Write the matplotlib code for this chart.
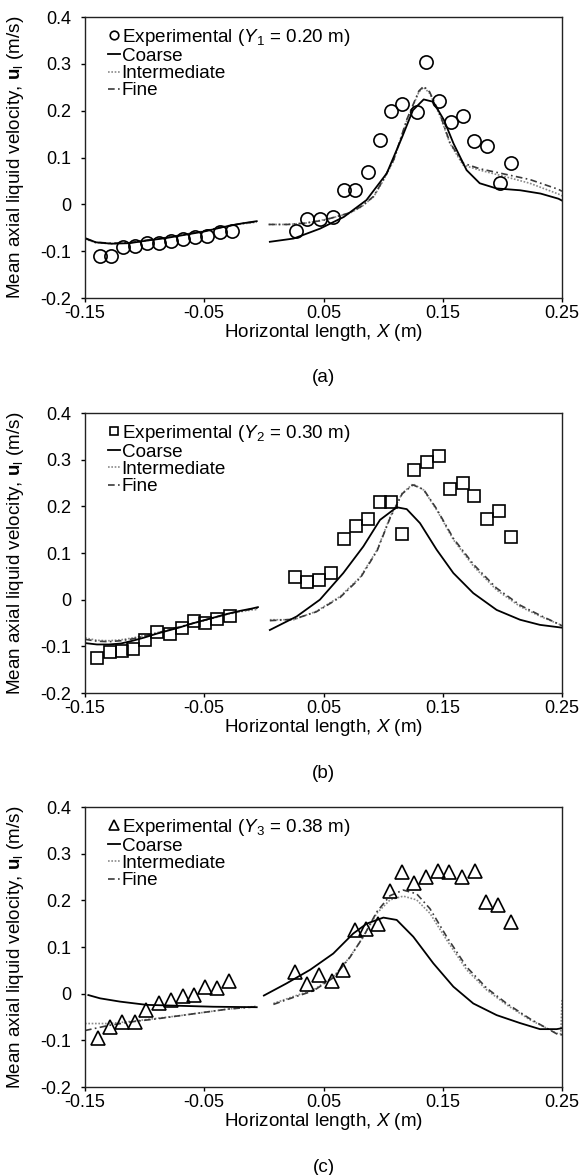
import numpy as np
import matplotlib
matplotlib.use("Agg")
import matplotlib.pyplot as plt

plt.rcParams['font.family'] = ['Liberation Sans', 'DejaVu Sans']
plt.rcParams['mathtext.fontset'] = 'custom'
plt.rcParams['mathtext.rm'] = 'Liberation Sans'
plt.rcParams['mathtext.it'] = 'Liberation Sans:italic'
plt.rcParams['mathtext.bf'] = 'Liberation Sans:bold'
plt.rcParams['axes.unicode_minus'] = False

# ---------------- Panel (a): Y1 = 0.20 m ----------------
a_exp_x = [-0.1375, -0.128, -0.118, -0.108, -0.098, -0.088, -0.078, -0.068, -0.058, -0.048, -0.037, -0.027,
           0.027, 0.036, 0.047, 0.058, 0.067, 0.076, 0.087, 0.097, 0.107, 0.116, 0.128, 0.136, 0.147,
           0.157, 0.167, 0.176, 0.187, 0.198, 0.207]
a_exp_y = [-0.111, -0.111, -0.092, -0.090, -0.083, -0.083, -0.079, -0.075, -0.070, -0.068, -0.060, -0.058,
           -0.058, -0.031, -0.031, -0.026, 0.030, 0.031, 0.070, 0.138, 0.199, 0.214, 0.198, 0.303, 0.221,
           0.176, 0.189, 0.136, 0.124, 0.045, 0.088]

a_left_x = [-0.15, -0.141, -0.128, -0.113, -0.097, -0.082, -0.066, -0.050, -0.035, -0.019, -0.006]
a_coarse_left = [-0.072, -0.081, -0.084, -0.083, -0.077, -0.072, -0.065, -0.058, -0.049, -0.041, -0.036]
a_inter_left = [-0.074, -0.082, -0.084, -0.082, -0.077, -0.071, -0.064, -0.057, -0.049, -0.042, -0.038]
a_fine_left = [-0.073, -0.081, -0.083, -0.082, -0.076, -0.071, -0.064, -0.057, -0.048, -0.041, -0.037]

a_coarse_right_x = [0.005, 0.025, 0.047, 0.067, 0.086, 0.103, 0.116, 0.125, 0.134, 0.142, 0.151, 0.159,
                    0.170, 0.181, 0.195, 0.215, 0.232, 0.247, 0.25]
a_coarse_right = [-0.080, -0.073, -0.052, -0.027, 0.009, 0.066, 0.144, 0.201, 0.224, 0.219, 0.180, 0.130,
                  0.073, 0.045, 0.034, 0.030, 0.023, 0.012, 0.008]
a_fine_right_x = [0.004, 0.020, 0.035, 0.050, 0.060, 0.072, 0.082, 0.092, 0.100, 0.109, 0.120, 0.130,
                  0.134, 0.139, 0.148, 0.156, 0.167, 0.181, 0.201, 0.223, 0.247, 0.25]
a_inter_right = [-0.043, -0.043, -0.040, -0.033, -0.027, -0.019, -0.005, 0.016, 0.050, 0.094, 0.180, 0.240,
                 0.250, 0.237, 0.187, 0.130, 0.084, 0.073, 0.060, 0.045, 0.022, 0.018]
a_fine_right = [-0.043, -0.043, -0.040, -0.034, -0.027, -0.018, -0.004, 0.017, 0.052, 0.096, 0.182, 0.242,
                0.252, 0.240, 0.190, 0.132, 0.088, 0.076, 0.065, 0.053, 0.032, 0.028]

# ---------------- Panel (b): Y2 = 0.30 m ----------------
b_exp_x = [-0.140, -0.129, -0.119, -0.110, -0.100, -0.090, -0.079, -0.069, -0.059, -0.049, -0.039, -0.028,
           0.026, 0.036, 0.046, 0.056, 0.067, 0.077, 0.087, 0.097, 0.107, 0.116, 0.126, 0.137, 0.147,
           0.156, 0.167, 0.176, 0.187, 0.197, 0.207]
b_exp_y = [-0.125, -0.113, -0.109, -0.106, -0.087, -0.069, -0.074, -0.061, -0.046, -0.051, -0.041, -0.034,
           0.049, 0.037, 0.043, 0.058, 0.130, 0.157, 0.172, 0.210, 0.210, 0.141, 0.278, 0.294, 0.307,
           0.237, 0.249, 0.222, 0.173, 0.191, 0.134]

b_left_x = [-0.15, -0.14, -0.13, -0.12, -0.11, -0.10, -0.09, -0.08, -0.07, -0.06, -0.05, -0.04, -0.03,
            -0.02, -0.01, -0.005]
b_coarse_left = [-0.093, -0.096, -0.096, -0.094, -0.088, -0.081, -0.073, -0.066, -0.059, -0.051, -0.044,
                 -0.037, -0.030, -0.024, -0.019, -0.016]
b_inter_left = [-0.082, -0.087, -0.088, -0.086, -0.082, -0.077, -0.071, -0.065, -0.058, -0.051, -0.045,
                -0.038, -0.031, -0.026, -0.022, -0.021]
b_fine_left = [-0.085, -0.089, -0.090, -0.088, -0.084, -0.078, -0.072, -0.065, -0.058, -0.051, -0.044,
               -0.037, -0.030, -0.025, -0.020, -0.018]

b_coarse_right_x = [0.005, 0.0275, 0.047, 0.0666, 0.0834, 0.0974, 0.1114, 0.1198, 0.1309, 0.1449, 0.1589,
                    0.1756, 0.1952, 0.2148, 0.2315, 0.2469, 0.25]
b_coarse_right = [-0.065, -0.036, 0.000, 0.057, 0.114, 0.171, 0.198, 0.194, 0.164, 0.107, 0.057, 0.014,
                  -0.022, -0.043, -0.054, -0.059, -0.060]
b_fine_right_x = [0.005, 0.025, 0.044, 0.064, 0.081, 0.095, 0.106, 0.116, 0.125, 0.134, 0.145, 0.159,
                  0.176, 0.195, 0.215, 0.232, 0.247, 0.25]
b_inter_right = [-0.043, -0.043, -0.025, 0.007, 0.049, 0.107, 0.178, 0.228, 0.248, 0.235, 0.192, 0.128,
                 0.071, 0.021, -0.015, -0.036, -0.052, -0.055]
b_fine_right = [-0.045, -0.042, -0.026, 0.005, 0.047, 0.105, 0.176, 0.227, 0.246, 0.236, 0.194, 0.131,
                0.075, 0.025, -0.012, -0.034, -0.052, -0.056]

# ---------------- Panel (c): Y3 = 0.38 m ----------------
c_exp_x = [-0.139, -0.129, -0.119, -0.108, -0.099, -0.088, -0.078, -0.068, -0.059, -0.049, -0.039, -0.029,
           0.0265, 0.036, 0.046, 0.057, 0.066, 0.076, 0.086, 0.096, 0.106, 0.116, 0.126, 0.136, 0.146,
           0.155, 0.166, 0.177, 0.186, 0.196, 0.207]
c_exp_y = [-0.096, -0.071, -0.061, -0.061, -0.036, -0.021, -0.013, -0.006, -0.002, 0.014, 0.013, 0.027,
           0.046, 0.021, 0.039, 0.027, 0.051, 0.136, 0.138, 0.150, 0.219, 0.261, 0.237, 0.250, 0.263,
           0.261, 0.251, 0.262, 0.196, 0.189, 0.154]

c_coarse_left_x = [-0.1472, -0.1374, -0.1207, -0.0983, -0.0703, -0.0424, -0.006]
c_coarse_left = [-0.003, -0.010, -0.017, -0.024, -0.026, -0.028, -0.029]
c_fine_left_x = [-0.15, -0.13, -0.11, -0.09, -0.07, -0.05, -0.03, -0.006]
c_inter_left = [-0.064, -0.064, -0.059, -0.053, -0.047, -0.040, -0.033, -0.027]
c_fine_left = [-0.079, -0.068, -0.060, -0.054, -0.047, -0.040, -0.033, -0.028]

c_coarse_right_x = [0.0, 0.019, 0.0387, 0.0582, 0.075, 0.0862, 0.1002, 0.1114, 0.1253, 0.1421, 0.1589,
                    0.1756, 0.1952, 0.2148, 0.2315, 0.2455, 0.25]
c_coarse_right = [-0.004, 0.022, 0.051, 0.086, 0.129, 0.150, 0.163, 0.158, 0.122, 0.065, 0.015, -0.021,
                  -0.046, -0.063, -0.076, -0.076, -0.074]
c_fine_right_x = [0.008, 0.0247, 0.0415, 0.0582, 0.0722, 0.0834, 0.0946, 0.1058, 0.1169, 0.1281, 0.1393,
                  0.1533, 0.1701, 0.1868, 0.2036, 0.2232, 0.2372, 0.2455, 0.249, 0.25]
c_inter_right = [-0.021, -0.006, 0.008, 0.036, 0.079, 0.122, 0.172, 0.201, 0.209, 0.201, 0.172, 0.115,
                 0.051, 0.008, -0.024, -0.056, -0.074, -0.085, -0.086, -0.012]
c_fine_right = [-0.023, -0.008, 0.006, 0.034, 0.078, 0.122, 0.175, 0.210, 0.222, 0.214, 0.182, 0.122,
                0.057, 0.012, -0.021, -0.054, -0.074, -0.086, -0.088, -0.088]

x_ticks = [-0.15, -0.05, 0.05, 0.15, 0.25]
x_ticklabels = ['-0.15', '-0.05', '0.05', '0.15', '0.25']
y_ticks = [-0.2, -0.1, 0.0, 0.1, 0.2, 0.3, 0.4]
y_ticklabels = ['-0.2', '-0.1', '0', '0.1', '0.2', '0.3', '0.4']

series_labels = ['Coarse', 'Intermediate', 'Fine']
exp_labels = ['Experimental ($\\mathit{Y}_{1}$ = 0.20 m)',
              'Experimental ($\\mathit{Y}_{2}$ = 0.30 m)',
              'Experimental ($\\mathit{Y}_{3}$ = 0.38 m)']
panel_tags = ['(a)', '(b)', '(c)']
markers = ['o', 's', '^']

FS = 13.6      # labels / legend
TFS = 13.0     # tick labels
W, H = 581, 1175
fig = plt.figure(figsize=(W / 100, H / 100), dpi=100)

axes_px = [(85, 17, 562, 298), (85, 413, 562, 693), (85, 807, 562, 1087)]

panels = [
    dict(ex=a_exp_x, ey=a_exp_y,
         cl=(a_left_x, a_coarse_left), il=(a_left_x, a_inter_left), fl=(a_left_x, a_fine_left),
         cr=(a_coarse_right_x, a_coarse_right), ir=(a_fine_right_x, a_inter_right), fr=(a_fine_right_x, a_fine_right),
         ms=9.5),
    dict(ex=b_exp_x, ey=b_exp_y,
         cl=(b_left_x, b_coarse_left), il=(b_left_x, b_inter_left), fl=(b_left_x, b_fine_left),
         cr=(b_coarse_right_x, b_coarse_right), ir=(b_fine_right_x, b_inter_right), fr=(b_fine_right_x, b_fine_right),
         ms=9.0),
    dict(ex=c_exp_x, ey=c_exp_y,
         cl=(c_coarse_left_x, c_coarse_left), il=(c_fine_left_x, c_inter_left), fl=(c_fine_left_x, c_fine_left),
         cr=(c_coarse_right_x, c_coarse_right), ir=(c_fine_right_x, c_inter_right), fr=(c_fine_right_x, c_fine_right),
         ms=10.0),
]

coarse_kw = dict(color='black', lw=1.3, linestyle='-')
inter_kw = dict(color='#8a8a8a', lw=1.2, linestyle=(0, (1, 1)))
fine_kw = dict(color='#3a3a3a', lw=1.2, linestyle=(0, (4, 2, 1, 2)))

for i, (p, (l, t, r, b)) in enumerate(zip(panels, axes_px)):
    ax = fig.add_axes([l / W, 1 - b / H, (r - l) / W, (b - t) / H])
    ax.plot(*p['ir'], **inter_kw)
    ax.plot(*p['fr'], **fine_kw)
    ax.plot(*p['cr'], **coarse_kw)
    ax.plot(*p['il'], **inter_kw)
    ax.plot(*p['fl'], **fine_kw)
    ax.plot(*p['cl'], **coarse_kw)
    hexp, = ax.plot(p['ex'], p['ey'], linestyle='none', marker=markers[i], ms=p['ms'],
                    mfc='none', mec='black', mew=1.2, label=exp_labels[i])
    hc, = ax.plot([], [], label=series_labels[0], **coarse_kw)
    hi, = ax.plot([], [], label=series_labels[1], **inter_kw)
    hf, = ax.plot([], [], label=series_labels[2], **fine_kw)

    ax.set_xlim(-0.15, 0.25)
    ax.set_ylim(-0.2, 0.4)
    ax.set_xticks(x_ticks)
    ax.set_xticklabels(x_ticklabels)
    ax.set_yticks(y_ticks)
    ax.set_yticklabels(y_ticklabels)
    ax.tick_params(direction='out', length=3, width=1, labelsize=TFS)
    ax.tick_params(axis='x', pad=2)
    ax.tick_params(axis='y', pad=7)
    for s in ax.spines.values():
        s.set_linewidth(1.0)
        s.set_color('#222222')
    ax.set_xlabel('Horizontal length, $\\mathit{X}$ (m)', fontsize=FS)
    ax.xaxis.set_label_coords(0.5, -(321.5 - 298) / (b - t))
    ax.set_ylabel('Mean axial liquid velocity, $\\mathbf{u}_{\\mathrm{l}}$ (m/s)', fontsize=FS)
    ax.yaxis.set_label_coords((26 - 85) / (r - l), 0.5)

    ax.legend(handles=[hexp, hc, hi, hf], loc='upper left', bbox_to_anchor=(0.041, 0.979),
              frameon=False, fontsize=FS, handlelength=0.6, handletextpad=0.1,
              labelspacing=0.0, borderpad=0.2, borderaxespad=0, markerscale=0.65)

    cx = (l + r) / 2 / W
    fig.text(cx, 1 - (b + 80) / H, panel_tags[i], ha='center', va='center', fontsize=FS)

fig.savefig('out.png', dpi=100)
